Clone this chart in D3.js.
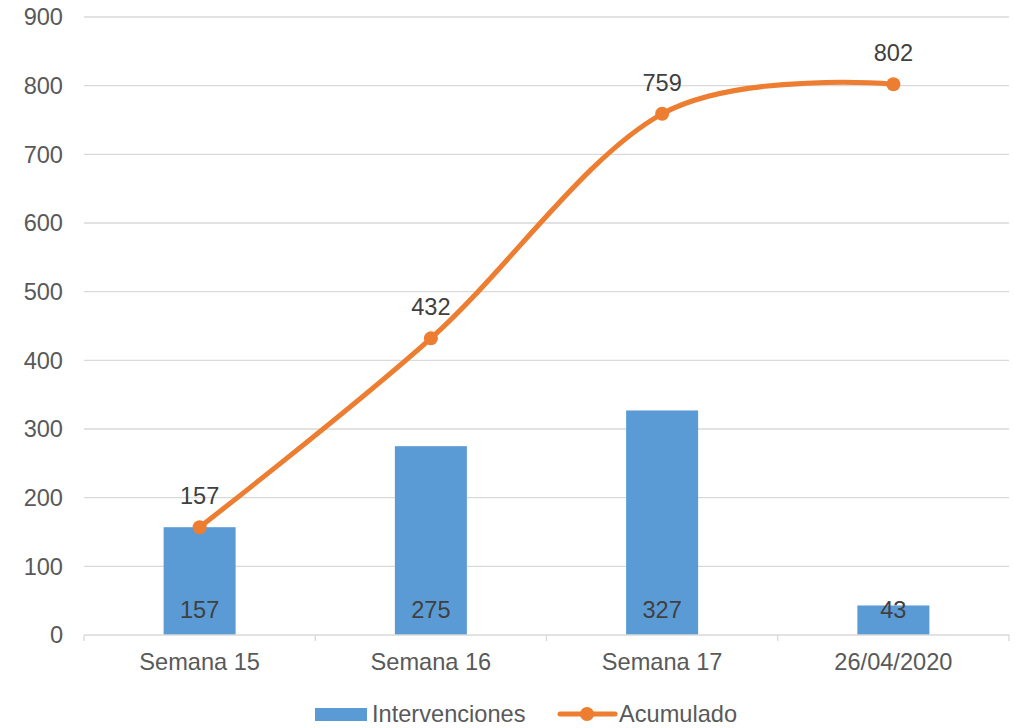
<!DOCTYPE html>
<html><head><meta charset="utf-8">
<script src="https://cdn.jsdelivr.net/npm/d3@7"></script>
<style>body{margin:0;background:#fff;} text{font-family:"Liberation Sans",Arial,sans-serif;}</style>
</head><body>
<svg id="c" width="1015" height="728"></svg>
<script>
const categories = ["Semana 15","Semana 16","Semana 17","26/04/2020"];
const intervenciones = [157,275,327,43];
const acumulado = [157,432,759,802];
const yTicks = [0,100,200,300,400,500,600,700,800,900];
const seriesNames = ["Intervenciones","Acumulado"];

(function(){
const svg = d3.select("#c");
const pLeft = 84, pRight = 1009, pTop = 17, pBottom = 635;
const fs = 23.6;
const x = d3.scaleBand().domain(categories).range([pLeft,pRight]).paddingInner(0).paddingOuter(0);
const y = d3.scaleLinear().domain([0,900]).range([pBottom,pTop]);
const blue = "#5B9BD5", orange = "#ED7D31", grid = "#d9d9d9";

svg.append("g").selectAll("line").data(yTicks.filter(d=>d>0)).join("line")
  .attr("x1",pLeft).attr("x2",pRight).attr("y1",d=>y(d)).attr("y2",d=>y(d))
  .attr("stroke",grid).attr("stroke-width",1.3);

svg.append("g").selectAll("text").data(yTicks).join("text")
  .attr("x",63).attr("y",d=>y(d)).attr("dy","0.36em").attr("text-anchor","end")
  .attr("font-size",fs).attr("fill","#595959").text(d=>d);

const bw = 72;
svg.append("g").selectAll("rect").data(intervenciones).join("rect")
  .attr("x",(d,i)=>x(categories[i])+x.bandwidth()/2-bw/2).attr("width",bw)
  .attr("y",d=>y(d)).attr("height",d=>y(0)-y(d)).attr("fill",blue);

svg.append("line").attr("x1",pLeft).attr("x2",pRight).attr("y1",pBottom).attr("y2",pBottom)
  .attr("stroke",grid).attr("stroke-width",1.3);
const bounds = categories.map(c=>x(c)).concat([pRight]);
svg.append("g").selectAll("line").data(bounds).join("line")
  .attr("x1",d=>d).attr("x2",d=>d).attr("y1",pBottom).attr("y2",pBottom+6)
  .attr("stroke",grid).attr("stroke-width",1.3);
svg.append("g").selectAll("text").data(categories).join("text")
  .attr("x",d=>x(d)+x.bandwidth()/2).attr("y",670).attr("text-anchor","middle")
  .attr("font-size",fs).attr("fill","#595959").text(d=>d);

svg.append("g").selectAll("text").data(intervenciones).join("text")
  .attr("x",(d,i)=>x(categories[i])+x.bandwidth()/2).attr("y",pBottom-17)
  .attr("text-anchor","middle").attr("font-size",fs).attr("fill","#404040").text(d=>d);

const pts = acumulado.map((d,i)=>[x(categories[i])+x.bandwidth()/2, y(d)]);
svg.append("path").attr("d",d3.line().curve(d3.curveCatmullRom.alpha(0))(pts))
  .attr("fill","none").attr("stroke",orange).attr("stroke-width",5).attr("stroke-linecap","round");
svg.append("g").selectAll("circle").data(pts).join("circle")
  .attr("cx",d=>d[0]).attr("cy",d=>d[1]).attr("r",7).attr("fill",orange);
svg.append("g").selectAll("text").data(acumulado).join("text")
  .attr("x",(d,i)=>pts[i][0]).attr("y",(d,i)=>pts[i][1]-23)
  .attr("text-anchor","middle").attr("font-size",fs).attr("fill","#404040").text(d=>d);

const lg = svg.append("g");
lg.append("rect").attr("x",315).attr("y",708).attr("width",52).attr("height",13).attr("fill",blue);
lg.append("text").attr("x",372).attr("y",722).attr("font-size",fs).attr("fill","#595959").text(seriesNames[0]);
lg.append("line").attr("x1",560).attr("x2",615).attr("y1",714).attr("y2",714).attr("stroke",orange).attr("stroke-width",5).attr("stroke-linecap","round");
lg.append("circle").attr("cx",587).attr("cy",714).attr("r",7).attr("fill",orange);
lg.append("text").attr("x",619).attr("y",722).attr("font-size",fs).attr("fill","#595959").text(seriesNames[1]);
})();
</script>
</body></html>
